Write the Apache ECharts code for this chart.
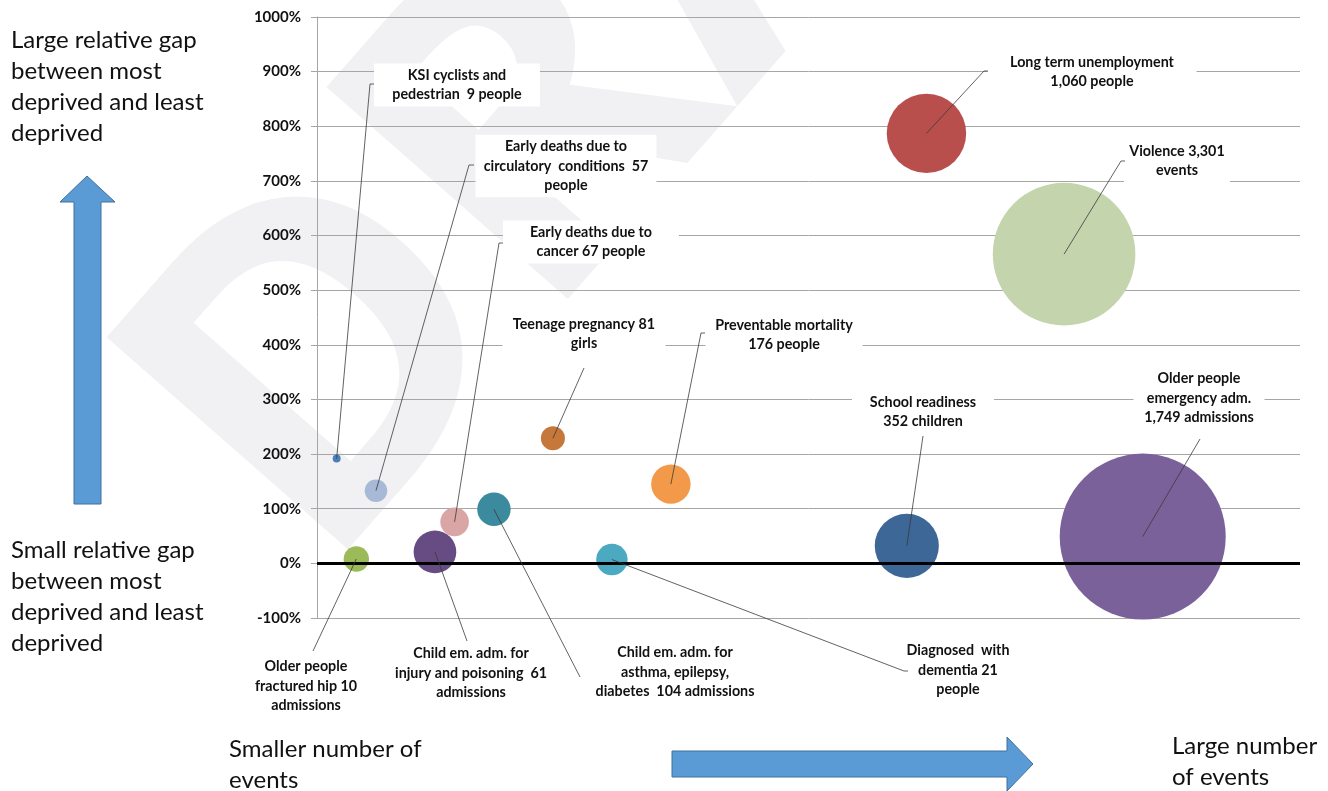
<!DOCTYPE html>
<html>
<head>
<meta charset="utf-8">
<title>Relative gap vs number of events</title>
<script src="https://cdn.jsdelivr.net/npm/echarts@6/dist/echarts.min.js"></script>
<style>
  html, body { margin: 0; padding: 0; background: #fff; }
  #chart { width: 1328px; height: 791px; }
</style>
</head>
<body>
<div id="chart"></div>
<script>
// indicator labels (one per bubble)
const labels = [
  'KSI cyclists and\npedestrian  9 people',
  'Early deaths due to\ncirculatory  conditions  57\npeople',
  'Early deaths due to\ncancer 67 people',
  'Older people\nfractured hip 10\nadmissions',
  'Child em. adm. for\ninjury and poisoning  61\nadmissions',
  'Child em. adm. for\nasthma, epilepsy,\ndiabetes  104 admissions',
  'Teenage pregnancy 81\ngirls',
  'Diagnosed  with\ndementia 21\npeople',
  'Preventable mortality\n176 people',
  'School readiness\n352 children',
  'Long term unemployment\n1,060 people',
  'Violence 3,301\nevents',
  'Older people\nemergency adm.\n1,749 admissions'
];
// horizontal placement (smaller -> larger number of events), hidden axis 0..100
const xPos = [2, 6, 14, 4, 12, 18, 24, 30, 36, 60, 62, 76, 84];
// relative gap between most and least deprived, %
const gapPct = [192, 133, 76, 8, 21, 99, 229, 7, 145, 32, 787, 566, 49];
// bubble size value (area)
const bubbleSize = [0.23, 1.85, 2.97, 2.34, 6.6, 4.05, 2.09, 3.58, 5.63, 14.9, 22.9, 73.8, 100];
// y axis ticks
const yMin = -100, yMax = 1000, yStep = 100;

const colors = ['#4a7ebb', '#a7b9d7', '#d9a6a5', '#9bbb59', '#664c82', '#3b8a9e', '#c6773a',
  '#4ba9c1', '#f29a4a', '#3c6796', '#b84f4d', '#c4d4ad', '#7a6199'];

// label boxes: centre, box width, leader end point, little hook
const labelLayout = [
  { cx: 457, cy: 85, w: 166, ex: 370, ey: 84, hook: 4 },
  { cx: 566, cy: 166, w: 181, ex: 469, ey: 165, hook: 5 },
  { cx: 591, cy: 242, w: 176, ex: 499, ey: 243, hook: 4 },
  { cx: 306, cy: 686, w: 118, ex: 313, ey: 651, hook: 0 },
  { cx: 471, cy: 673, w: 165, ex: 467, ey: 641, hook: 0 },
  { cx: 675, cy: 672, w: 172, ex: 580, ey: 677, hook: 0 },
  { cx: 584, cy: 334, w: 163, ex: 584, ey: 368, hook: 0 },
  { cx: 958, cy: 670, w: 112, ex: 904, ey: 671, hook: 4 },
  { cx: 784, cy: 335, w: 157, ex: 701, ey: 333, hook: 4 },
  { cx: 923, cy: 412, w: 142, ex: 923, ey: 436, hook: 0 },
  { cx: 1092, cy: 72, w: 209, ex: 984, ey: 71, hook: 4 },
  { cx: 1177, cy: 161, w: 106, ex: 1121, ey: 161, hook: 4 },
  { cx: 1199, cy: 398, w: 131, ex: 1200, ey: 439, hook: 0 }
];

const LINE_H = 19.5;
const SIZE_K = 16.6; // diameter in px for size value 1

const chart = echarts.init(document.getElementById('chart'));

const bubbleData = xPos.map((x, i) => ({
  value: [x, gapPct[i], bubbleSize[i]],
  itemStyle: { color: colors[i] }
}));

const sideText = (x, y, text) => ({
  type: 'text',
  x: x,
  y: y,
  z: 10,
  style: {
    text: text,
    fontFamily: 'Lato',
    fontSize: 24,
    lineHeight: 31,
    fill: '#111',
    textAlign: 'left',
    textVerticalAlign: 'top'
  }
});

const option = {
  backgroundColor: '#fff',
  animation: false,
  grid: { left: 317, right: 28, top: 17, bottom: 173, outerBoundsMode: 'none' },
  xAxis: { type: 'value', min: 0, max: 100, show: false },
  yAxis: {
    type: 'value',
    min: yMin,
    max: yMax,
    interval: yStep,
    axisLine: { show: true, lineStyle: { color: '#a6a6a6', width: 1 } },
    axisTick: { show: true, length: 6, lineStyle: { color: '#a6a6a6' } },
    splitLine: { show: true, lineStyle: { color: '#a6a6a6', width: 1 } },
    axisLabel: {
      formatter: (v) => v + '%',
      fontFamily: 'Lato',
      fontWeight: 'bold',
      fontSize: 15,
      color: '#111',
      margin: 16
    }
  },
  graphic: [
    {
      // faint DRAFT watermark behind the plot
      type: 'text',
      x: 225,
      y: 495,
      rotation: 0.85,
      z: -10,
      silent: true,
      style: {
        text: 'DRAFT',
        fontFamily: 'Open Sans',
        fontWeight: 'bold',
        fontSize: 450,
        fill: '#f1f1f4',
        textAlign: 'left',
        textVerticalAlign: 'middle'
      }
    },
    sideText(11, 25, 'Large relative gap\nbetween most\ndeprived and least\ndeprived'),
    sideText(11, 535, 'Small relative gap\nbetween most\ndeprived and least\ndeprived'),
    sideText(229, 734, 'Smaller number of\nevents'),
    sideText(1172, 731, 'Large number\nof events'),
    {
      type: 'polygon',
      z: 10,
      shape: { points: [[87, 176], [115, 202], [101, 202], [101, 504], [74, 504], [74, 202], [60, 202]] },
      style: { fill: '#5b9bd5', stroke: '#41719c', lineWidth: 1 }
    },
    {
      type: 'polygon',
      z: 10,
      shape: { points: [[672, 751], [1007, 751], [1007, 737], [1033, 764], [1007, 791], [1007, 777], [672, 777]] },
      style: { fill: '#5b9bd5', stroke: '#41719c', lineWidth: 1 }
    }
  ],
  series: [
    {
      // zero line, drawn under the bubbles
      type: 'scatter',
      z: 1,
      data: [],
      markLine: {
        silent: true,
        symbol: ['none', 'none'],
        label: { show: false },
        lineStyle: { color: '#000', width: 3, type: 'solid' },
        data: [{ yAxis: 0 }]
      }
    },
    {
      type: 'scatter',
      z: 2,
      data: bubbleData,
      symbolSize: (val) => SIZE_K * Math.sqrt(val[2]),
      itemStyle: { opacity: 1 }
    },
    {
      type: 'custom',
      z: 5,
      clip: false,
      data: xPos.map((x, i) => [x, gapPct[i]]),
      renderItem: function (params, api) {
        const i = params.dataIndex;
        const c = api.coord([api.value(0), api.value(1)]);
        const L = labelLayout[i];
        const n = labels[i].split('\n').length;
        const h = n * LINE_H + 4;
        const pts = [c, [L.ex, L.ey]];
        if (L.hook) pts.push([L.ex + L.hook, L.ey]);
        return {
          type: 'group',
          children: [
            {
              type: 'rect',
              shape: { x: L.cx - L.w / 2, y: L.cy - h / 2, width: L.w, height: h },
              style: { fill: '#fff' }
            },
            {
              type: 'polyline',
              shape: { points: pts },
              style: { stroke: '#3a3a3a', lineWidth: 0.8, fill: null }
            },
            {
              type: 'text',
              x: L.cx,
              y: L.cy,
              style: {
                text: labels[i],
                fontFamily: 'Lato',
                fontWeight: 'bold',
                fontSize: 14.3,
                lineHeight: LINE_H,
                fill: '#111',
                textAlign: 'center',
                textVerticalAlign: 'middle'
              }
            }
          ]
        };
      }
    }
  ]
};

chart.setOption(option);
</script>
</body>
</html>
